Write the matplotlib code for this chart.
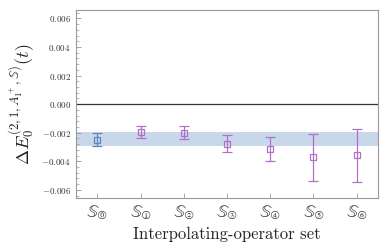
import numpy as np
import matplotlib
matplotlib.use("Agg")
import matplotlib.pyplot as plt
import matplotlib.ticker as ticker

# data
labels = [r'$\mathbb{S}_{⓪}$', r'$\mathbb{S}_{①}$', r'$\mathbb{S}_{②}$', r'$\mathbb{S}_{③}$',
          r'$\mathbb{S}_{④}$', r'$\mathbb{S}_{⑤}$', r'$\mathbb{S}_{⑥}$']
values = [-0.00248, -0.00194, -0.00200, -0.00277, -0.00312, -0.00372, -0.00358]
errors = [0.00048, 0.00040, 0.00044, 0.00059, 0.00083, 0.00163, 0.00186]
band_lo, band_hi = -0.00293, -0.00196

COLOR_FIRST = '#5a86c0'
COLOR_REST = '#b070c8'
COLOR_BAND = '#c9d7ea'

plt.rcParams['font.family'] = ['cmr10', 'DejaVu Serif']
plt.rcParams['mathtext.fontset'] = 'cm'
plt.rcParams['axes.formatter.use_mathtext'] = True

fig = plt.figure(figsize=(3.9, 2.48), dpi=100)
ax = fig.add_axes([0.194, 0.2, 0.776, 0.76])

x = np.arange(len(values))
ax.axhspan(band_lo, band_hi, color=COLOR_BAND, lw=0, zorder=1)
ax.axhline(0.0, color='#333333', lw=0.9, zorder=2)

for i in x:
    c = COLOR_FIRST if i == 0 else COLOR_REST
    ax.errorbar(i, values[i], yerr=errors[i], fmt='s', mfc='none', mec=c,
                ms=4.5, mew=0.9, ecolor=c, elinewidth=0.9, capsize=3.5,
                capthick=0.9, zorder=3)

ax.set_xlim(-0.5, 6.5)
ax.set_ylim(-0.0066, 0.0066)
ax.set_xticks(x)
ax.set_xticklabels(labels)
ax.yaxis.set_major_locator(ticker.MultipleLocator(0.002))
ax.yaxis.set_minor_locator(ticker.MultipleLocator(0.0004))
ax.yaxis.set_major_formatter(ticker.FuncFormatter(
    lambda v, p: '$%.3f$' % v if abs(v) > 1e-9 else '$0.000$'))
ax.tick_params(axis='both', direction='in', colors='#999999', labelcolor='#333333',
               labelsize=6.5, length=3.5, width=0.6)
ax.tick_params(axis='x', labelsize=12.5, pad=3)
ax.tick_params(axis='y', which='minor', direction='in', length=2, width=0.5, colors='#999999')
for s in ax.spines.values():
    s.set_color('#999999')
    s.set_linewidth(0.8)

ax.set_xlabel('Interpolating-operator set', fontsize=12, color='#222222', labelpad=4)
ax.set_ylabel(r'$\Delta E_0^{(2,1,A_1^+,\mathbb{S})}(t)$', fontsize=13, color='#222222')

fig.savefig('out.png', dpi=100)
